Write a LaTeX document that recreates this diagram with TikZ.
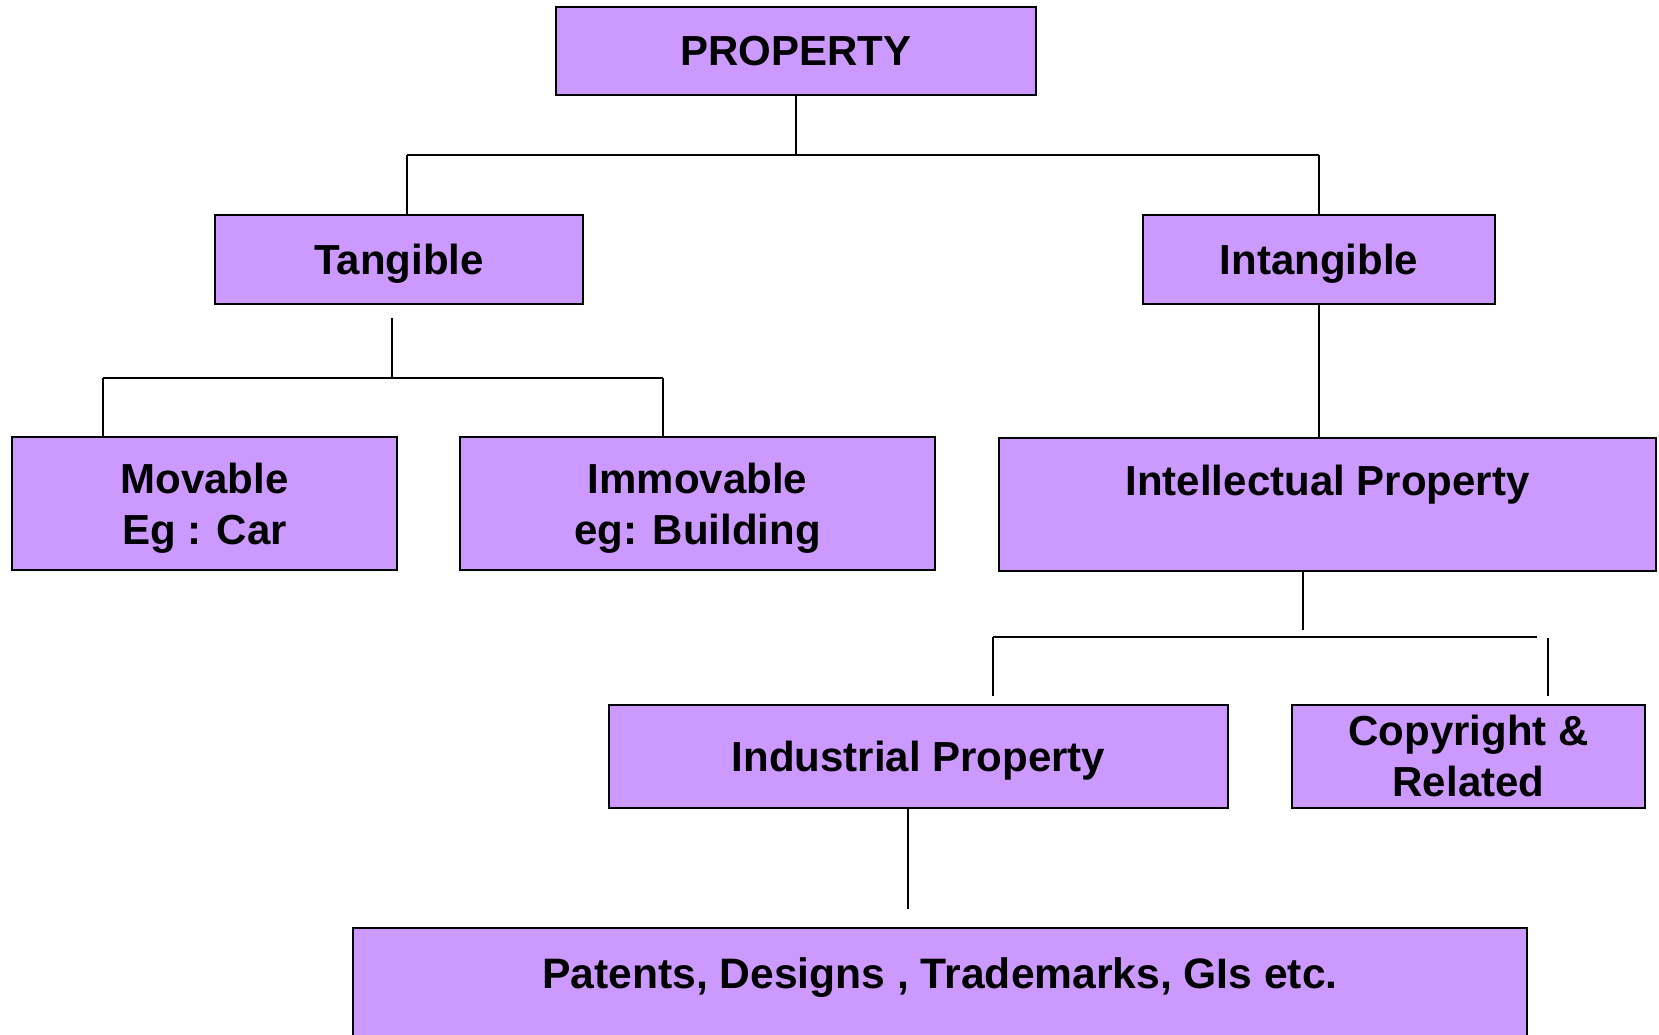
\documentclass[tikz,border=0pt]{standalone}
\usepackage{fontspec}
\setmainfont{Liberation Sans}
\definecolor{boxfill}{HTML}{CC99FF}
\begin{document}
\begin{tikzpicture}[x=1pt,y=1pt,
  pbox/.style={draw=black, line width=2pt, fill=boxfill, inner sep=0pt,
    font=\fontsize{42}{51}\selectfont\bfseries, align=center},
  oneline/.style={text height=30pt, text depth=0pt},
  conn/.style={draw=black, line width=2pt}]
\clip (0,0) rectangle (1659,-1035);
\fill[white] (0,0) rectangle (1659,-1035);
% boxes
\node[pbox, oneline, minimum width=480pt, minimum height=88pt] (prop) at (796,-51) {PROPERTY};
\node[pbox, oneline, minimum width=368pt, minimum height=89pt] (tang) at (399,-259) {Tangible};
\node[pbox, oneline, minimum width=352pt, minimum height=89pt] (intang) at (1319,-259) {Intangible};
\node[pbox, text depth=0pt, minimum width=385pt, minimum height=133pt] (mov) at (204.5,-503.5) {Movable\\Eg : Car};
\node[pbox, text depth=0pt, minimum width=475pt, minimum height=133pt] (immov) at (697.5,-503.5) {Immovable\\eg: Building};
\node[pbox, anchor=north, minimum width=657pt, text height=57pt, text depth=76pt] (ip) at (1327.5,-437) {Intellectual Property};
\node[pbox, oneline, minimum width=619pt, minimum height=103pt] (ind) at (918.5,-756) {Industrial Property};
\node[pbox, minimum width=353pt, minimum height=103pt] (copy) at (1468.5,-756) {Copyright \&\\Related};
\node[pbox, anchor=north, minimum width=1174pt, text height=60pt, text depth=120pt,
  font=\fontsize{42.6}{51}\selectfont\bfseries] (pat) at (940,-927) {Patents, Designs , Trademarks, GIs etc.};
% junction points
\coordinate (j1) at (796,-155);
\coordinate (j1l) at (407,-155);
\coordinate (j1r) at (1319,-155);
\coordinate (t1) at (391.5,-318);
\coordinate (t2) at (391.5,-378);
\coordinate (t2l) at (103,-378);
\coordinate (t2r) at (663,-378);
\coordinate (i1) at (1302.5,-630);
\coordinate (i2l) at (993,-637);
\coordinate (i2r) at (1537,-637);
\coordinate (i3l) at (993,-696);
\coordinate (i3r) at (1548,-638);
\coordinate (i4r) at (1548,-696);
\coordinate (d1) at (908,-909);
% connectors
\draw[conn] (prop.south) -- (j1);
\draw[conn] (j1l) -- (j1r);
\draw[conn] (j1l) -- (j1l |- tang.north);
\draw[conn] (j1r) -- (intang.north);
\draw[conn] (t1) -- (t2);
\draw[conn] (t2l) -- (t2r);
\draw[conn] (t2l) -- (t2l |- mov.north);
\draw[conn] (t2r) -- (t2r |- immov.north);
\draw[conn] (intang.south) -- (intang.south |- ip.north);
\draw[conn] (i1 |- ip.south) -- (i1);
\draw[conn] (i2l) -- (i2r);
\draw[conn] (i2l) -- (i3l);
\draw[conn] (i3r) -- (i4r);
\draw[conn] (d1 |- ind.south) -- (d1);
\end{tikzpicture}
\end{document}
